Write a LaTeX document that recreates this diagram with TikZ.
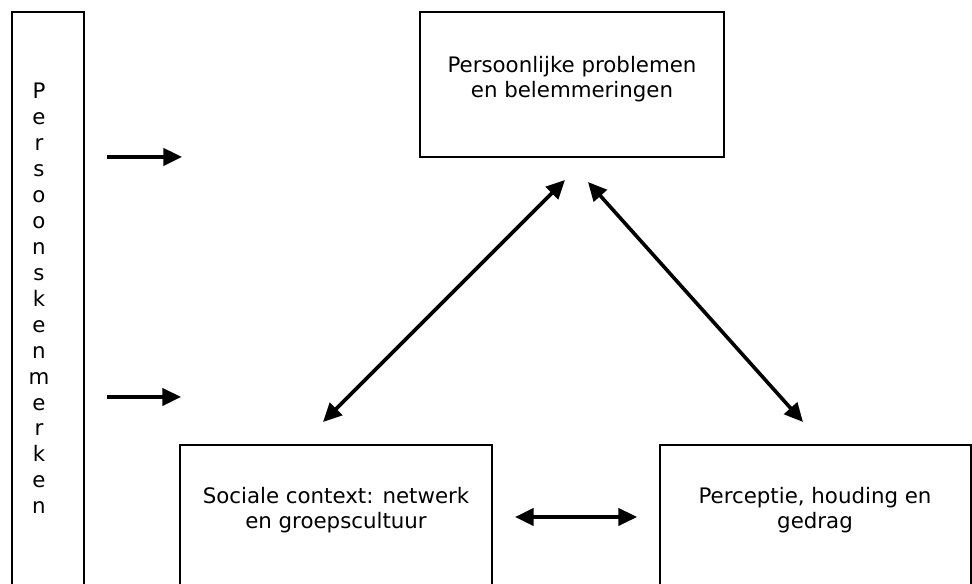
\documentclass[tikz,border=0pt]{standalone}
\usepackage{fontspec}
\setmainfont{DejaVu Sans}
\usetikzlibrary{arrows.meta}

\begin{document}
\begin{tikzpicture}[x=0.75pt,y=-0.75pt,
	vak/.style={draw=black,line width=1.5pt,inner sep=0pt,outer sep=0pt,anchor=north west},
	tekst/.style={align=center,inner sep=0pt,anchor=north,font=\fontsize{16}{18.75}\selectfont},
	pijl/.style={line width=2.7pt,-{Triangle[length=14pt,width=13pt]}},
	dubbel/.style={line width=2.7pt,{Triangle[length=14pt,width=13pt]}-{Triangle[length=14pt,width=13pt]}}]
	
	\useasboundingbox (0,0) rectangle (972,584);
	
	\node[vak,minimum width=54pt,minimum height=456pt]        (kenmerken) at (12,12)   {};
	\node[vak,minimum width=228pt,minimum height=108.75pt]    (problemen) at (420,12)  {};
	\node[vak,minimum width=234pt,minimum height=135pt]       (sociaal)   at (180,445) {};
	\node[vak,minimum width=233.25pt,minimum height=135pt]    (gedrag)    at (660,445) {};
	
	\node[tekst,font=\fontsize{16}{19.45}\selectfont] (letters) at (39,83)
		{P\\e\\r\\s\\o\\o\\n\\s\\k\\e\\n\\m\\e\\r\\k\\e\\n};
	\node[tekst] (problementekst) at (572,56)  {Persoonlijke problemen\\en belemmeringen};
	\node[tekst] (sociaaltekst)   at (336,487) {Sociale context: netwerk\\en groepscultuur};
	\node[tekst] (gedragtekst)    at (815,487) {Perceptie, houding en\\gedrag};
	
	\coordinate (a1)  at (107,157);
	\coordinate (b1)  at (182,157);
	\coordinate (a2)  at (107,397);
	\coordinate (b2)  at (181,397);
	\coordinate (sl)  at (515,517);
	\coordinate (sr)  at (637,517);
	\coordinate (dl1) at (323,422);
	\coordinate (dl2) at (565,180);
	\coordinate (dr1) at (588,182);
	\coordinate (dr2) at (803,422);
	
	\path[pijl]   (a1)  edge (b1);
	\path[pijl]   (a2)  edge (b2);
	\path[dubbel] (sl)  edge (sr);
	\path[dubbel] (dl1) edge (dl2);
	\path[dubbel] (dr1) edge (dr2);
	
\end{tikzpicture}
\end{document}
